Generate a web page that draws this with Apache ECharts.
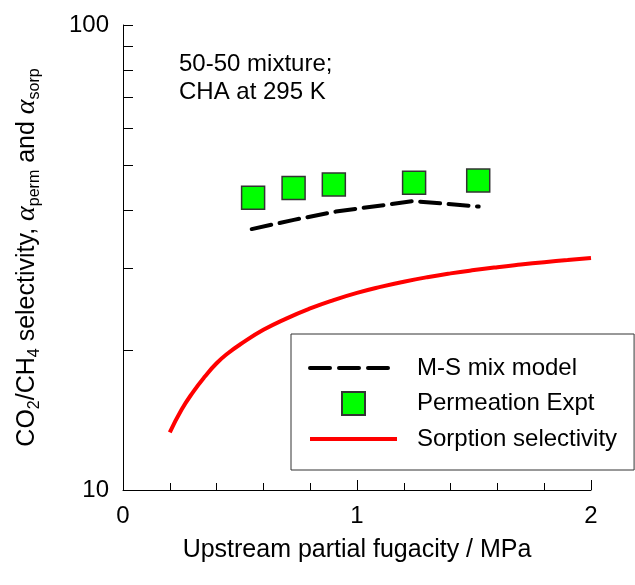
<!DOCTYPE html>
<html>
<head>
<meta charset="utf-8">
<script src="https://cdn.jsdelivr.net/npm/echarts@6/dist/echarts.min.js"></script>
<style>html,body{margin:0;padding:0;background:#fff}#c{width:635px;height:585px}</style>
</head>
<body>
<div id="c"></div>
<script>
// Sorption selectivity curve
var sorpX = [0.2, 0.25, 0.3, 0.35, 0.4, 0.45, 0.5, 0.6, 0.7, 0.8, 0.9, 1.0, 1.1, 1.2, 1.3, 1.4, 1.5, 1.6, 1.7, 1.8, 1.9, 2.0];
var sorpY = [13.3, 14.88, 16.26, 17.54, 18.73, 19.71, 20.55, 22.1, 23.4, 24.57, 25.61, 26.54, 27.34, 28.05, 28.68, 29.23, 29.71, 30.14, 30.53, 30.9, 31.23, 31.56];
// M-S mix model
var msX = [0.55, 0.73, 0.91, 1.24, 1.52];
var msY = [36.4, 38.1, 39.7, 41.8, 40.7];
// Permeation experiment
var permX = [0.556, 0.729, 0.901, 1.244, 1.518];
var permY = [42.5, 44.6, 45.4, 45.8, 46.3];
// tick values
var yTickValues = [10, 20, 30, 40, 50, 60, 70, 80, 90, 100];
var yLabelValues = [10, 100];

function zip(a, b) { return a.map(function (v, i) { return [v, b[i]]; }); }

var FONT = 'Liberation Sans, Arial, sans-serif';
var chart = echarts.init(document.getElementById('c'), null, {renderer: 'canvas'});
chart.setOption({
  animation: false,
  backgroundColor: '#fff',
  title: {
    text: '50-50 mixture;\nCHA at 295 K',
    left: 179, top: 50, padding: 0,
    textStyle: {fontFamily: FONT, fontSize: 24, fontWeight: 'normal', color: '#000', lineHeight: 28}
  },
  grid: {left: 123, right: 44, top: 25, bottom: 95},
  legend: {
    orient: 'vertical',
    left: 291, top: 334,
    padding: [22, 17, 19, 17],
    itemWidth: 87, itemHeight: 23, itemGap: 11,
    borderColor: '#333', borderWidth: 1, borderRadius: 0,
    backgroundColor: '#fff',
    textStyle: {fontFamily: FONT, fontSize: 24, color: '#000', padding: [0, 0, 0, 15]},
    data: [
      {name: 'M-S mix model', itemStyle: {opacity: 0}, lineStyle: {width: 4, type: [20, 9], cap: 'round', color: '#000'}},
      {name: 'Permeation Expt', icon: 'path://M0 0H10V10H0Z'},
      {name: 'Sorption selectivity', itemStyle: {opacity: 0}, lineStyle: {width: 4, color: '#ff0000'}}
    ]
  },
  xAxis: {
    type: 'value', min: 0, max: 2, interval: 1,
    name: 'Upstream partial fugacity / MPa',
    nameLocation: 'middle', nameGap: 48,
    nameTextStyle: {fontFamily: FONT, fontSize: 25, color: '#000'},
    axisLine: {lineStyle: {color: '#000', width: 1}},
    axisTick: {inside: true, length: 10, lineStyle: {color: '#000'}},
    minorTick: {show: true, splitNumber: 5, length: 7, lineStyle: {color: '#000'}},
    axisLabel: {fontFamily: FONT, fontSize: 24, color: '#000', margin: 14},
    splitLine: {show: false}
  },
  yAxis: {
    type: 'log', logBase: 10, min: 10, max: 100,
    name: 'CO{sub|2}/CH{sub|4} selectivity, {a|α}{sub|perm} and {a|α}{sub|sorp}',
    nameLocation: 'middle', nameGap: 80, nameRotate: 90,
    nameTextStyle: {
      fontFamily: FONT, fontSize: 25, color: '#000',
      rich: {
        sub: {fontFamily: FONT, fontSize: 16, color: '#000', verticalAlign: 'bottom', lineHeight: 32},
        a: {fontFamily: 'Liberation Serif, serif', fontStyle: 'italic', fontSize: 28, color: '#000'}
      }
    },
    axisLine: {show: true, lineStyle: {color: '#000', width: 1}},
    axisTick: {inside: true, length: 10, customValues: yTickValues, lineStyle: {color: '#000'}},
    axisLabel: {fontFamily: FONT, fontSize: 24, color: '#000', margin: 14, customValues: yLabelValues},
    splitLine: {show: false}
  },
  series: [
    {
      name: 'M-S mix model', type: 'line', data: zip(msX, msY),
      symbol: 'none', smooth: false,
      lineStyle: {color: '#000', width: 4, type: [20, 8.5], cap: 'round'},
      itemStyle: {color: '#000'}, z: 3
    },
    {
      name: 'Permeation Expt', type: 'scatter', data: zip(permX, permY),
      symbol: 'rect', symbolSize: 23, symbolKeepAspect: true,
      itemStyle: {color: '#00ff00', borderColor: '#333', borderWidth: 1.5, opacity: 1}, z: 4
    },
    {
      name: 'Sorption selectivity', type: 'line', data: zip(sorpX, sorpY),
      symbol: 'none', smooth: true,
      lineStyle: {color: '#ff0000', width: 4},
      itemStyle: {color: '#ff0000'}, z: 2
    }
  ]
});
</script>
</body>
</html>
